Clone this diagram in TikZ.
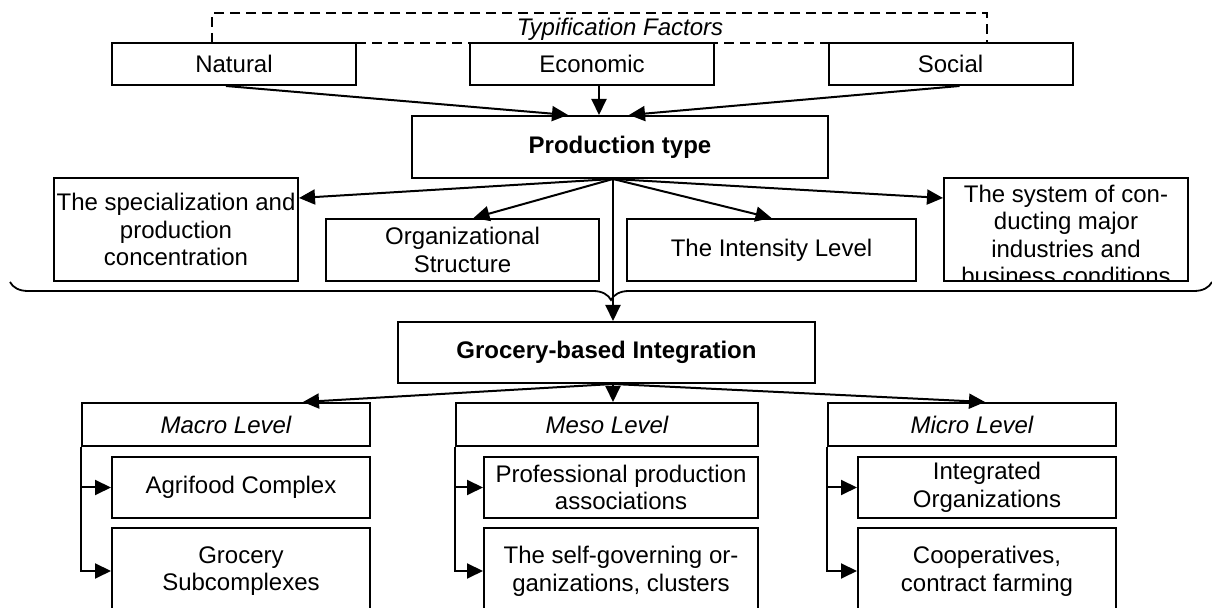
\documentclass[tikz,border=0pt]{standalone}
\usepackage{fontspec}
\setmainfont{Liberation Sans}
\usetikzlibrary{arrows.meta,calc,decorations.pathreplacing}
\tikzstyle{box} = [
	rectangle,
	draw,
	line width = 1pt,
	fill = white,
	align = center,
	inner sep = 1pt,
	font = \fontsize{12}{13.8}\selectfont
	]
\tikzstyle{factor} = [
	box,
	minimum width = 122pt,
	minimum height = 21pt
	]
\tikzstyle{feature} = [
	box,
	minimum height = 31pt
	]
\tikzstyle{lvlbox} = [
	box,
	font = \itshape\fontsize{12}{13.8}\selectfont,
	minimum height = 21.5pt
	]
\tikzstyle{itembox} = [
	box,
	minimum width = 129pt,
	minimum height = 30.5pt
	]
\tikzstyle{dashbox} = [
	rectangle,
	draw,
	dash pattern = on 5pt off 3pt,
	line width = 0.8pt,
	minimum width = 387.5pt,
	minimum height = 15pt
	]
\tikzstyle{arr} = [
	-{Triangle[length=8pt,width=7.5pt]},
	line width = 1pt
	]
\begin{document}
\begin{tikzpicture}[x=0.5pt,y=-0.5pt]
	\useasboundingbox (0,0) rectangle (1212,608);
	% factors
	\node[dashbox] (typ) at (599.5,28) {};
	\node[font=\itshape\fontsize{12}{13.8}\selectfont] (typlbl) at (620,29) {Typification Factors};
	\node[factor] (nat) at (234,64) {Natural};
	\node[factor] (eco) at (592,64) {Economic};
	\node[factor] (soc) at (950.5,64) {Social};
	\node[box, font=\bfseries\fontsize{12}{13.8}\selectfont, minimum width=208pt, minimum height=31pt] (prod) at (620,147) {Production type};
	\draw[arr] ([xshift=-4pt]nat.south) -- ([xshift=-26pt]prod.north);
	\draw[arr] ([xshift=3.5pt]eco.south) -- ([xshift=-10.5pt]prod.north);
	\draw[arr] ([xshift=4.5pt]soc.south) -- ([xshift=4.5pt]prod.north);
	% features of production type
	\node[box, minimum width=122pt, minimum height=51.5pt] (spec) at (176,229.5) {The specialization and\\production\\concentration};
	\node[feature, minimum width=136.5pt] (org) at (462.5,250) {Organizational\\Structure};
	\node[feature, minimum width=144.5pt] (inten) at (771.5,250) {The Intensity Level};
	\node[box, minimum width=122pt, minimum height=51.5pt] (sys) at (1066,229.5) {};
	\begin{scope}
		\clip (sys.south west) rectangle (sys.north east);
		\node[align=center, inner sep=1pt, font=\fontsize{12}{13.8}\selectfont] (systxt) at (1066,235) {The system of con-\\ducting major\\industries and\\business conditions};
	\end{scope}
	\coordinate (phub) at ([xshift=-3.5pt]prod.south);
	\draw[arr] (phub) -- ($(spec.north east)!0.2!(spec.south east)$);
	\draw[arr] (phub) -- ([xshift=5.5pt]org.north);
	\draw[arr] (phub) -- (inten.north);
	\draw[arr] (phub) -- ($(sys.north west)!0.2!(sys.south west)$);
	% brace
	\coordinate (bl) at (10,282);
	\coordinate (br) at (1212,282);
	\draw[line width=0.9pt, decorate, decoration={brace, mirror, amplitude=9pt}] (bl) -- (br);
	\node[box, font=\bfseries\fontsize{12}{13.8}\selectfont, minimum width=208.5pt, minimum height=30.5pt] (groc) at (606.5,352.5) {Grocery-based Integration};
	\draw[arr] (phub) -- (phub |- groc.north);
	% levels
	\node[lvlbox, minimum width=144pt] (macro) at (226,424.5) {Macro Level};
	\node[lvlbox, minimum width=151pt] (meso) at (607,424.5) {Meso Level};
	\node[lvlbox, minimum width=144pt] (micro) at (972,424.5) {Micro Level};
	\coordinate (ghub) at (phub |- groc.south);
	\draw[arr] (ghub) -- ([xshift=38.5pt]macro.north);
	\draw[arr] (ghub) -- (ghub |- meso.north);
	\draw[arr] (ghub) -- ([xshift=6.5pt]micro.north);
	% items
	\node[itembox] (agri) at (241,487.5) {Agrifood Complex};
	\node[itembox, minimum height=43pt] (grsub) at (241,571) {Grocery\\Subcomplexes};
	\node[itembox, minimum width=137pt] (prof) at (621,487.5) {Professional production\\associations};
	\node[itembox, minimum width=137pt, minimum height=43pt] (selfg) at (621,571) {The self-governing or-\\ganizations, clusters};
	\node[itembox] (integ) at (987,487.5) {Integrated\\Organizations};
	\node[itembox, minimum height=43pt] (coop) at (987,571) {Cooperatives,\\contract farming};
	\draw[arr] (macro.south west) |- (agri.west);
	\draw[arr] (macro.south west) |- (grsub.west);
	\draw[arr] (meso.south west) |- (prof.west);
	\draw[arr] (meso.south west) |- (selfg.west);
	\draw[arr] (micro.south west) |- (integ.west);
	\draw[arr] (micro.south west) |- (coop.west);
\end{tikzpicture}
\end{document}
